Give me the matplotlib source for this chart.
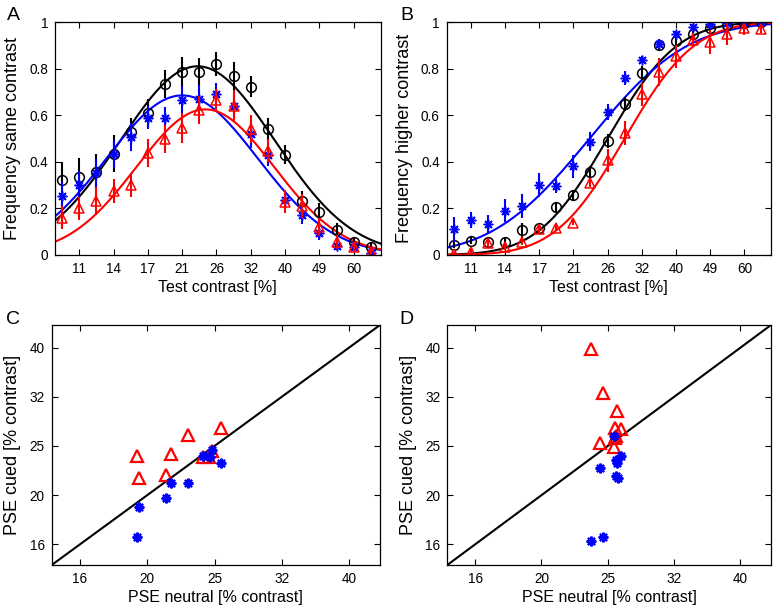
import math
import numpy as np
import matplotlib
matplotlib.use("Agg")
from matplotlib import pyplot as plt

plt.rcParams['font.family'] = ['Liberation Sans', 'DejaVu Sans']

##########
# Data   #
##########

# test contrast levels (19 levels, labels on every second one)
tick_labels = ["11", "14", "17", "21", "26", "32", "40", "49", "60"]
level_idx = np.arange(19)

# Panel A : frequency "same contrast"
same_neutral = [0.32, 0.335, 0.355, 0.435, 0.53, 0.61, 0.735, 0.785, 0.785, 0.82,
                0.767, 0.722, 0.54, 0.43, 0.23, 0.183, 0.107, 0.054, 0.033]
same_neutral_err = [0.08, 0.08, 0.08, 0.08, 0.06, 0.06, 0.06, 0.065, 0.06, 0.05,
                    0.06, 0.045, 0.05, 0.04, 0.045, 0.04, 0.03, 0.02, 0.02]
same_valid = [0.254, 0.30, 0.352, 0.433, 0.507, 0.59, 0.586, 0.667, 0.669, 0.689,
              0.639, 0.52, 0.43, 0.236, 0.171, 0.093, 0.04, 0.036, 0.007]
same_valid_err = [0.06, 0.06, 0.06, 0.06, 0.06, 0.05, 0.05, 0.06, 0.06, 0.05,
                  0.06, 0.06, 0.05, 0.04, 0.04, 0.03, 0.02, 0.02, 0.015]
same_invalid = [0.16, 0.20, 0.23, 0.275, 0.30, 0.436, 0.496, 0.546, 0.624, 0.664,
                0.639, 0.54, 0.447, 0.229, 0.21, 0.12, 0.054, 0.036, 0.015]
same_invalid_err = [0.05, 0.05, 0.06, 0.05, 0.05, 0.06, 0.06, 0.065, 0.06, 0.05,
                    0.07, 0.06, 0.05, 0.05, 0.05, 0.04, 0.03, 0.02, 0.02]
# gaussian fits: amplitude, centre (level index), width
fit_same = {"neutral": (0.81, 7.9, 4.5), "valid": (0.685, 7.0, 4.4), "invalid": (0.625, 8.35, 4.0)}

# Panel B : frequency "higher contrast"
high_neutral = [0.043, 0.061, 0.054, 0.056, 0.107, 0.117, 0.204, 0.257, 0.357, 0.49,
                0.646, 0.781, 0.903, 0.919, 0.947, 0.974, 0.989, 0.997, 1.0]
high_neutral_err = [0.015, 0.015, 0.015, 0.015, 0.03, 0.02, 0.025, 0.02, 0.025, 0.03,
                    0.03, 0.03, 0.025, 0.02, 0.015, 0.01, 0.01, 0.005, 0.005]
high_valid = [0.11, 0.15, 0.131, 0.19, 0.21, 0.30, 0.296, 0.38, 0.486, 0.614,
              0.76, 0.839, 0.907, 0.95, 0.98, 0.99, 0.996, 1.0, 1.0]
high_valid_err = [0.055, 0.035, 0.04, 0.05, 0.05, 0.05, 0.03, 0.05, 0.04, 0.035,
                  0.03, 0.015, 0.02, 0.01, 0.01, 0.01, 0.005, 0.005, 0.005]
high_invalid = [0.004, 0.014, 0.05, 0.036, 0.057, 0.113, 0.117, 0.139, 0.31, 0.407,
                0.524, 0.689, 0.786, 0.853, 0.921, 0.914, 0.95, 0.976, 0.971]
high_invalid_err = [0.01, 0.01, 0.015, 0.015, 0.015, 0.02, 0.015, 0.01, 0.02, 0.05,
                    0.05, 0.05, 0.06, 0.05, 0.03, 0.05, 0.05, 0.03, 0.02]
# cumulative gaussian fits: centre (level index), width
fit_high = {"neutral": (9.0, 3.2), "valid": (7.95, 4.5), "invalid": (10.0, 3.2)}

# Panels C, D : PSE per subject [% contrast]
pse_c_neutral_valid = [19.46, 19.59, 21.44, 21.83, 23.08, 25.9, 24.33, 24.88, 25.11]
pse_c_valid = [16.58, 19.06, 19.82, 21.32, 21.32, 23.39, 24.17, 24.06, 24.81]
pse_c_neutral_invalid = [19.46, 19.59, 21.44, 21.83, 23.08, 25.9, 24.33, 24.8, 25.11]
pse_c_invalid = [24.17, 21.82, 22.13, 24.39, 26.65, 27.49, 24.06, 24.06, 24.74]

pse_d_neutral_valid = [25.85, 26.51, 25.99, 26.15, 24.59, 25.99, 26.21, 23.89, 24.91]
pse_d_valid = [26.49, 24.17, 23.69, 23.32, 22.86, 22.02, 21.75, 16.28, 16.58]
pse_d_neutral_invalid = [23.84, 24.91, 26.09, 25.94, 26.51, 26.06, 24.59, 25.85, 25.9]
pse_d_invalid = [39.69, 32.4, 29.8, 27.53, 27.32, 26.49, 25.71, 25.2, 26.2]

pse_ticks = [16, 20, 25, 32, 40]

##########
# Script #
##########

W, H = 779, 614
fig = plt.figure(figsize=(W / 100, H / 100), dpi=100)

def px_axes(x0, x1, y0, y1):
    return fig.add_axes([x0 / W, 1 - y1 / H, (x1 - x0) / W, (y1 - y0) / H])

def style(ax):
    ax.tick_params(direction='in', length=4, width=0.8, top=True, right=True,
                   labelsize=9.8, pad=5)
    for s in ax.spines.values():
        s.set_linewidth(0.9)

ms = 7
xs = np.linspace(-0.5, 18.6, 300)

# ---------- A ----------
axA = px_axes(55, 380.5, 22, 255)
for c, key in [('k', 'neutral'), ('b', 'valid'), ('r', 'invalid')]:
    amp, mu, sd = fit_same[key]
    axA.plot(xs, amp * np.exp(-(xs - mu) ** 2 / (2 * sd ** 2)), color=c, lw=1.5)
for y, e, c, m in [(same_neutral, same_neutral_err, 'k', 'o'),
                   (same_valid, same_valid_err, 'b', (8, 2, 0)),
                   (same_invalid, same_invalid_err, 'r', '^')]:
    axA.errorbar(level_idx, y, yerr=e, fmt='none', ecolor=c, elinewidth=1.5)
    axA.plot(level_idx, y, ls='none', marker=m, ms=ms, mfc='none', mec=c, mew=1.1)

# ---------- B ----------
axB = px_axes(446.7, 771, 22, 255)
for c, key in [('k', 'neutral'), ('b', 'valid'), ('r', 'invalid')]:
    mu, sd = fit_high[key]
    yy = [0.5 * (1 + math.erf((v - mu) / (sd * math.sqrt(2)))) for v in xs]
    axB.plot(xs, yy, color=c, lw=1.5)
for y, e, c, m in [(high_neutral, high_neutral_err, 'k', 'o'),
                   (high_valid, high_valid_err, 'b', (8, 2, 0)),
                   (high_invalid, high_invalid_err, 'r', '^')]:
    axB.errorbar(level_idx, y, yerr=e, fmt='none', ecolor=c, elinewidth=1.5)
    axB.plot(level_idx, y, ls='none', marker=m, ms=ms, mfc='none', mec=c, mew=1.1)

for ax, lab in [(axA, "Frequency same contrast"), (axB, "Frequency higher contrast")]:
    ax.set_xlim(-0.41, 18.56)
    ax.set_ylim(0, 1)
    ax.set_xticks(level_idx[1::2])
    ax.set_xticklabels(tick_labels)
    ax.set_yticks([0, 0.2, 0.4, 0.6, 0.8, 1])
    ax.set_yticklabels(["0", "0.2", "0.4", "0.6", "0.8", "1"])
    ax.set_xlabel("Test contrast [%]", fontsize=11.5, labelpad=3)
    ax.set_ylabel(lab, fontsize=13, labelpad=6)
    style(ax)

# ---------- C, D ----------
r = (40 / 16) ** 0.25
lo, hi = 16 * r ** -0.42, 16 * r ** 4.46
tick_pos = [16 * r ** k for k in range(5)]

axC = px_axes(51.7, 380, 325, 565)
axD = px_axes(447.3, 771, 325, 565)
for ax, nv, v, ni, inv in [(axC, pse_c_neutral_valid, pse_c_valid, pse_c_neutral_invalid, pse_c_invalid),
                           (axD, pse_d_neutral_valid, pse_d_valid, pse_d_neutral_invalid, pse_d_invalid)]:
    ax.set_xscale('log')
    ax.set_yscale('log')
    ax.plot([lo, hi], [lo, hi], color='k', lw=1.5)
    ax.plot(ni, inv, ls='none', marker='^', ms=8, mfc='none', mec='r', mew=1.6)
    ax.plot(nv, v, ls='none', marker=(8, 2, 0), ms=7, mfc='none', mec='b', mew=1.6)
    ax.set_xlim(lo, hi)
    ax.set_ylim(lo, hi)
    ax.set_xticks(tick_pos)
    ax.set_xticklabels([str(t) for t in pse_ticks])
    ax.set_yticks(tick_pos)
    ax.set_yticklabels([str(t) for t in pse_ticks])
    ax.minorticks_off()
    ax.set_xlabel("PSE neutral [% contrast]", fontsize=11.5, labelpad=3)
    ax.set_ylabel("PSE cued [% contrast]", fontsize=13, labelpad=6)
    style(ax)

for x, y, t in [(7, 15, "A"), (400, 15, "B"), (6, 320, "C"), (399, 320, "D")]:
    fig.text(x / W, 1 - y / H, t, fontsize=14, va='center', ha='left')

fig.savefig("out.png", dpi=100)
